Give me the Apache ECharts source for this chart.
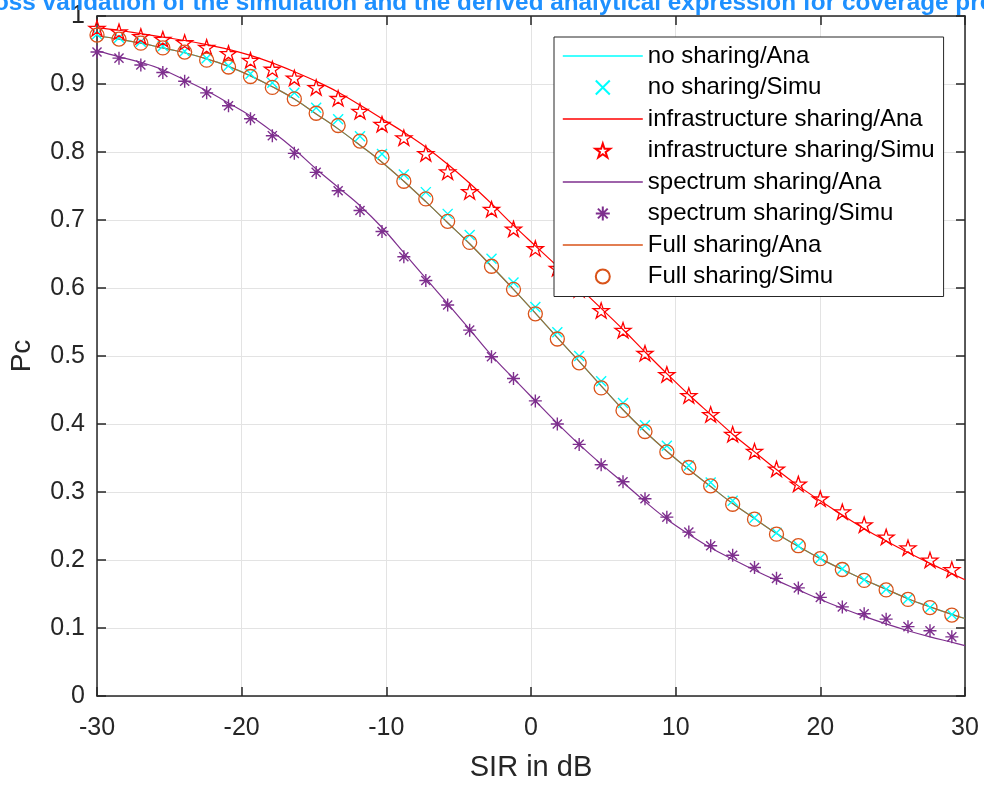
<!DOCTYPE html>
<html><head><meta charset="utf-8">
<script src="https://cdn.jsdelivr.net/npm/echarts/dist/echarts.min.js"></script>
<style>html,body{margin:0;padding:0;background:#fff}#c{width:984px;height:787px}</style>
</head><body><div id="c"></div>
<script>
const titleText = 'Cross validation of the simulation and the derived analytical expression for coverage probability';
const xTicks = [-30, -20, -10, 0, 10, 20, 30];
const yTicks = [0, 0.1, 0.2, 0.3, 0.4, 0.5, 0.6, 0.7, 0.8, 0.9, 1];
const seriesNames = ['no sharing/Ana', 'no sharing/Simu', 'infrastructure sharing/Ana', 'infrastructure sharing/Simu',
  'spectrum sharing/Ana', 'spectrum sharing/Simu', 'Full sharing/Ana', 'Full sharing/Simu'];

// simulation sample points (SIR in dB)
const sirX = [-30, -28.48, -26.97, -25.45, -23.94, -22.42, -20.91, -19.39, -17.88, -16.36, -14.85, -13.33, -11.82, -10.3,
  -8.79, -7.27, -5.76, -4.24, -2.73, -1.21, 0.3, 1.82, 3.33, 4.85, 6.36, 7.88, 9.39, 10.91, 12.42, 13.94, 15.45, 16.97,
  18.48, 20.0, 21.52, 23.03, 24.55, 26.06, 27.58, 29.09];
// analytical curve sample points (SIR in dB)
const anaX = [-30, -28.48, -26.97, -25.45, -23.94, -22.42, -20.91, -19.39, -17.88, -16.36, -14.85, -13.33, -11.82, -10.3,
  -8.79, -7.27, -5.76, -4.24, -2.73, -1.21, 0.3, 1.82, 3.33, 4.85, 6.36, 7.88, 9.39, 10.91, 12.42, 13.94, 15.45, 16.97,
  18.48, 20.0, 21.52, 23.03, 24.55, 26.06, 27.58, 29.09, 30];

const noShareAna = [0.971, 0.966, 0.960, 0.953, 0.946, 0.937, 0.926, 0.912, 0.896, 0.878, 0.856, 0.834, 0.810, 0.785,
  0.757, 0.727, 0.696, 0.665, 0.632, 0.598, 0.563, 0.527, 0.492, 0.456, 0.421, 0.389, 0.360,
  0.333, 0.308, 0.283, 0.261, 0.239, 0.220, 0.202, 0.186, 0.171, 0.157, 0.143, 0.131, 0.120, 0.114];
const noShareSimu = [0.973, 0.968, 0.962, 0.956, 0.948, 0.938, 0.927, 0.915, 0.902, 0.887, 0.865, 0.848, 0.823, 0.797,
  0.767, 0.741, 0.709, 0.678, 0.643, 0.608, 0.572, 0.535, 0.500, 0.463, 0.431, 0.398, 0.368,
  0.339, 0.314, 0.287, 0.262, 0.240, 0.221, 0.203, 0.187, 0.171, 0.157, 0.143, 0.130, 0.120];
const infraAna = [0.983, 0.979, 0.974, 0.969, 0.964, 0.958, 0.951, 0.942, 0.931, 0.918, 0.904, 0.888, 0.869, 0.849,
  0.829, 0.807, 0.782, 0.754, 0.724, 0.692, 0.662, 0.632, 0.601, 0.570, 0.539, 0.506, 0.474,
  0.443, 0.414, 0.385, 0.359, 0.333, 0.309, 0.287, 0.266, 0.246, 0.228, 0.211, 0.195, 0.180, 0.171];
const infraSimu = [0.982, 0.977, 0.970, 0.966, 0.961, 0.954, 0.945, 0.935, 0.922, 0.909, 0.895, 0.879, 0.860, 0.841,
  0.821, 0.798, 0.771, 0.742, 0.716, 0.687, 0.658, 0.629, 0.598, 0.567, 0.538, 0.504, 0.473,
  0.442, 0.414, 0.385, 0.360, 0.334, 0.312, 0.290, 0.271, 0.252, 0.234, 0.218, 0.200, 0.186];
const spectrumAna = [0.949, 0.940, 0.932, 0.921, 0.906, 0.890, 0.872, 0.853, 0.830, 0.804, 0.775, 0.748, 0.721, 0.689,
  0.652, 0.614, 0.577, 0.539, 0.501, 0.467, 0.434, 0.401, 0.370, 0.341, 0.314, 0.286, 0.260,
  0.238, 0.218, 0.201, 0.185, 0.170, 0.156, 0.142, 0.129, 0.117, 0.106, 0.096, 0.087, 0.079, 0.074];
const spectrumSimu = [0.947, 0.938, 0.928, 0.917, 0.904, 0.887, 0.868, 0.849, 0.824, 0.798, 0.770, 0.743, 0.714, 0.683,
  0.646, 0.611, 0.575, 0.538, 0.499, 0.467, 0.434, 0.400, 0.370, 0.340, 0.315, 0.290, 0.263,
  0.241, 0.221, 0.207, 0.189, 0.173, 0.159, 0.145, 0.131, 0.121, 0.113, 0.102, 0.096, 0.087];
const fullAna = [0.971, 0.966, 0.960, 0.953, 0.946, 0.937, 0.926, 0.912, 0.896, 0.878, 0.856, 0.834, 0.810, 0.785,
  0.757, 0.727, 0.696, 0.665, 0.632, 0.598, 0.563, 0.527, 0.492, 0.456, 0.421, 0.389, 0.360,
  0.333, 0.308, 0.283, 0.261, 0.239, 0.220, 0.202, 0.186, 0.171, 0.157, 0.143, 0.131, 0.120, 0.114];
const fullSimu = [0.972, 0.966, 0.960, 0.953, 0.947, 0.935, 0.925, 0.911, 0.895, 0.878, 0.857, 0.839, 0.816, 0.792,
  0.757, 0.731, 0.698, 0.667, 0.632, 0.598, 0.562, 0.525, 0.490, 0.453, 0.420, 0.389, 0.359,
  0.336, 0.309, 0.282, 0.260, 0.238, 0.221, 0.202, 0.186, 0.170, 0.156, 0.142, 0.130, 0.119];

const FONT = '"Liberation Sans", Arial, Helvetica, sans-serif';
const AX = '#262626';
const pair = (xs, ys) => xs.map((x, i) => [x, ys[i]]);

const X_PATH = 'path://M0,0L10,10M10,0L0,10';
const STAR_PATH = 'path://M10,0L12.245,6.91L19.51,6.91L13.633,11.18L15.878,18.09L10,13.82L4.122,18.09L6.367,11.18L0.49,6.91L7.755,6.91Z';
const AST_PATH = 'path://M5,0L5,10M0,5L10,5M1.5,1.5L8.5,8.5M8.5,1.5L1.5,8.5';

const COLORS = ['#00FFFF', '#00FFFF', '#FF0000', '#FF0000', '#7E2F8E', '#7E2F8E', '#D95319', '#D95319'];

function lineSeries(name, xs, ys, color) {
  return { name, type: 'line', data: pair(xs, ys), symbol: 'none', smooth: 0.4,
    lineStyle: { color, width: 1.2 }, itemStyle: { color }, z: 2 };
}
function simuSeries(name, xs, ys, color, symbol, size, bw) {
  return { name, type: 'scatter', data: pair(xs, ys), symbol, symbolSize: size, symbolKeepAspect: true,
    itemStyle: { color: 'rgba(0,0,0,0)', borderColor: color, borderWidth: bw, opacity: 1 }, z: 3 };
}

const legendData = seriesNames.map((n, i) => i % 2 === 0
  ? { name: n, itemStyle: { color: 'rgba(0,0,0,0)', borderColor: 'rgba(0,0,0,0)', borderWidth: 0 },
      lineStyle: { color: COLORS[i], width: 1.6, opacity: 1 } }
  : { name: n });

const chart = echarts.init(document.getElementById('c'), null, { renderer: 'canvas' });
chart.setOption({
  animation: false,
  backgroundColor: '#fff',
  title: { text: titleText, left: -38, top: -14,
    textStyle: { fontFamily: FONT, fontSize: 24.3, fontWeight: 'bold', color: '#1E90FF' } },
  grid: { left: 97, right: 19, top: 16, bottom: 87, containLabel: false },
  legend: {
    orient: 'vertical', left: 554, top: 37,
    padding: [7, 9, 8, 8], itemGap: 7.5, itemWidth: 80, itemHeight: 14,
    backgroundColor: '#fff', borderColor: AX, borderWidth: 1, borderRadius: 0,
    textStyle: { fontFamily: FONT, fontSize: 24, color: '#000', lineHeight: 24 },
    data: legendData, selectedMode: false
  },
  xAxis: [{
    type: 'value', min: xTicks[0], max: xTicks[xTicks.length - 1], interval: 10,
    name: 'SIR in dB', nameLocation: 'middle', nameGap: 57,
    nameTextStyle: { fontFamily: FONT, fontSize: 29, color: AX },
    axisLine: { show: true, onZero: false, lineStyle: { color: AX, width: 1.5 } },
    axisTick: { show: true, inside: true, length: 9, lineStyle: { color: AX, width: 1.5 } },
    axisLabel: { fontFamily: FONT, fontSize: 25, color: AX, margin: 20 },
    splitLine: { show: true, lineStyle: { color: '#e3e3e3', width: 1 } }
  }, {
    type: 'value', position: 'top', min: xTicks[0], max: xTicks[xTicks.length - 1], interval: 10,
    axisLine: { show: true, onZero: false, lineStyle: { color: AX, width: 1.5 } },
    axisTick: { show: true, inside: true, length: 9, lineStyle: { color: AX, width: 1.5 } },
    axisLabel: { show: false }, splitLine: { show: false }
  }],
  yAxis: [{
    type: 'value', min: yTicks[0], max: yTicks[yTicks.length - 1], interval: 0.1,
    name: 'Pc', nameLocation: 'middle', nameGap: 61, nameRotate: 90,
    nameTextStyle: { fontFamily: FONT, fontSize: 28, color: AX },
    axisLine: { show: true, onZero: false, lineStyle: { color: AX, width: 1.5 } },
    axisTick: { show: true, inside: true, length: 9, lineStyle: { color: AX, width: 1.5 } },
    axisLabel: { fontFamily: FONT, fontSize: 25, color: AX, margin: 12,
      formatter: v => String(Math.round(v * 10) / 10) },
    splitLine: { show: true, lineStyle: { color: '#e3e3e3', width: 1 } }
  }, {
    type: 'value', position: 'right', min: yTicks[0], max: yTicks[yTicks.length - 1], interval: 0.1,
    axisLine: { show: true, onZero: false, lineStyle: { color: AX, width: 1.5 } },
    axisTick: { show: true, inside: true, length: 9, lineStyle: { color: AX, width: 1.5 } },
    axisLabel: { show: false }, splitLine: { show: false }
  }],
  series: [
    lineSeries(seriesNames[0], anaX, noShareAna, COLORS[0]),
    simuSeries(seriesNames[1], sirX, noShareSimu, COLORS[1], X_PATH, 10, 1.4),
    lineSeries(seriesNames[2], anaX, infraAna, COLORS[2]),
    simuSeries(seriesNames[3], sirX, infraSimu, COLORS[3], STAR_PATH, 16, 1.3),
    lineSeries(seriesNames[4], anaX, spectrumAna, COLORS[4]),
    simuSeries(seriesNames[5], sirX, spectrumSimu, COLORS[5], AST_PATH, 13, 1.4),
    lineSeries(seriesNames[6], anaX, fullAna, '#B0622C'),
    simuSeries(seriesNames[7], sirX, fullSimu, COLORS[7], 'circle', 14, 1.3)
  ]
});
</script>
</body></html>
